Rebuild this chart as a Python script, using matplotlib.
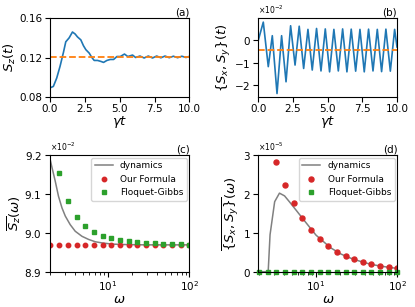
import matplotlib
matplotlib.use("Agg")
import matplotlib.pyplot as plt

# (a) S_z(t)
t_a = [0.0, 0.24, 0.48, 0.72, 0.96, 1.13, 1.37, 1.61, 1.80, 1.97, 2.21, 2.40,
       2.57, 2.81, 3.00, 3.17, 3.41, 3.65, 3.84, 4.08, 4.32, 4.56, 4.80, 5.04,
       5.34, 5.58, 5.92, 6.14, 6.45, 6.75, 7.05, 7.35, 7.65, 7.95, 8.25, 8.55,
       8.85, 9.15, 9.45, 9.75, 10.0]
sz_a = [0.0890, 0.0905, 0.0990, 0.1110, 0.1250, 0.1360, 0.1400, 0.1460, 0.1440,
        0.1410, 0.1380, 0.1320, 0.1280, 0.1245, 0.1200, 0.1170, 0.1170, 0.1160,
        0.1150, 0.1170, 0.1180, 0.1180, 0.1210, 0.1210, 0.1235, 0.1210, 0.1225,
        0.1200, 0.1215, 0.1195, 0.1215, 0.1195, 0.1215, 0.1197, 0.1215, 0.1198,
        0.1213, 0.1198, 0.1213, 0.1200, 0.1212]
sz_steady = 0.121

# (b) {S_x, S_y}(t), units of 1e-2
t_b = [0.0, 0.36, 0.72, 1.01, 1.35, 1.68, 2.00, 2.33, 2.65, 2.95, 3.27, 3.58,
       3.89, 4.20, 4.52, 4.83, 5.14, 5.45, 5.77, 6.08, 6.39, 6.70, 7.02, 7.33,
       7.64, 7.95, 8.27, 8.58, 8.89, 9.20, 9.52, 9.83, 10.0]
sxy_b = [0.0, 0.80, -1.17, 0.20, -2.36, 0.20, -1.84, 0.64, -1.10, 0.62, -1.25,
         0.48, -1.32, 0.52, -1.36, 0.50, -1.40, 0.48, -1.36, 0.50, -1.40, 0.49,
         -1.37, 0.48, -1.40, 0.49, -1.36, 0.48, -1.39, 0.49, -1.37, 0.48, -0.30]
sxy_steady = -0.43

# (c), (d) time averages vs driving frequency
omega = [2.0, 2.55, 3.26, 4.17, 5.32, 6.79, 8.68, 11.08, 14.15, 18.07, 23.08,
         29.47, 37.64, 48.06, 61.38, 78.38, 100.0]

# (c) units of 1e-2
formula_c = [8.969, 8.969, 8.969, 8.969, 8.969, 8.969, 8.969, 8.969, 8.969,
             8.969, 8.969, 8.969, 8.969, 8.969, 8.969, 8.969, 8.969]
fg_c = [9.250, 9.155, 9.083, 9.041, 9.017, 9.003, 8.993, 8.986, 8.981, 8.978,
        8.976, 8.975, 8.973, 8.972, 8.971, 8.970, 8.969]
dyn_w_c = [1.93, 2.08, 2.29, 2.51, 2.77, 3.04, 3.49, 4.02, 4.86, 5.85, 7.06,
           8.54, 11.3, 15.0, 20.0, 30.0, 50.0, 100.0]
dyn_c = [9.200, 9.170, 9.133, 9.094, 9.064, 9.043, 9.021, 9.004, 8.991, 8.983,
         8.977, 8.974, 8.971, 8.970, 8.9695, 8.969, 8.969, 8.969]

# (d) units of 1e-5
formula_d = [4.6, 3.6, 2.83, 2.23, 1.76, 1.37, 1.07, 0.84, 0.66, 0.51, 0.40,
             0.32, 0.25, 0.20, 0.155, 0.12, 0.095]
fg_d = [0.0, 0.0, 0.0, 0.0, 0.0, 0.0, 0.0, 0.0, 0.0, 0.0, 0.0, 0.0, 0.0, 0.0,
        0.0, 0.0, 0.0]
dyn_w_d = [2.0, 2.58, 2.72, 3.1, 3.55, 4.1, 4.7, 5.7, 6.9, 8.3, 10.0, 12.1,
           15.0, 20.0, 25.0, 30.0, 40.0, 50.0, 60.0, 80.0, 100.0]
dyn_d = [0.0, 0.0, 0.95, 1.80, 2.02, 1.95, 1.80, 1.58, 1.36, 1.15, 0.94, 0.79,
         0.62, 0.46, 0.37, 0.31, 0.23, 0.18, 0.15, 0.11, 0.085]

TICK = 7.5
LABEL = 9.5

fig = plt.figure(figsize=(4.15, 3.07), dpi=100)
ax_a = fig.add_axes([0.1205, 0.685, 0.336, 0.2554])
ax_b = fig.add_axes([0.6224, 0.685, 0.3342, 0.2554])
ax_c = fig.add_axes([0.1193, 0.115, 0.3373, 0.380])
ax_d = fig.add_axes([0.6224, 0.115, 0.3350, 0.380])

# (a)
ax_a.plot(t_a, sz_a, color="#1f77b4", lw=1.2)
ax_a.axhline(sz_steady, color="#ff7f0e", ls="--", lw=1.3)
ax_a.set_xlim(0, 10)
ax_a.set_ylim(0.08, 0.16)
ax_a.set_yticks([0.08, 0.12, 0.16])
ax_a.set_xticks([0, 2.5, 5, 7.5, 10])
ax_a.set_ylabel(r"$S_z(t)$", fontsize=LABEL, labelpad=1)
ax_a.set_xlabel(r"$\gamma t$", fontsize=LABEL, labelpad=0)
ax_a.set_title("(a)", loc="right", fontsize=7.5, pad=2)

# (b)
scale_b = 1e-2
ax_b.plot(t_b, [v * scale_b for v in sxy_b], color="#1f77b4", lw=1.2)
ax_b.axhline(sxy_steady * scale_b, color="#ff7f0e", ls="--", lw=1.3)
ax_b.set_xlim(0, 10)
ax_b.set_ylim(-2.5e-2, 0.97e-2)
ax_b.set_yticks([-2e-2, -1e-2, 0])
ax_b.set_xticks([0, 2.5, 5, 7.5, 10])
ax_b.ticklabel_format(axis="y", style="sci", scilimits=(0, 0),
                      useOffset=False, useMathText=True)
ax_b.set_ylabel(r"$\{S_x, S_y\}(t)$", fontsize=LABEL, labelpad=1)
ax_b.set_xlabel(r"$\gamma t$", fontsize=LABEL, labelpad=0)
ax_b.set_title("(b)", loc="right", fontsize=7.5, pad=2)

# (c)
scale_c = 1e-2
ax_c.plot(dyn_w_c, [v * scale_c for v in dyn_c], color="gray", lw=1.1,
          label="dynamics")
ax_c.plot(omega, [v * scale_c for v in formula_c], "o", color="#d62728",
          ms=3.2, ls="none", label="Our Formula")
ax_c.plot(omega, [v * scale_c for v in fg_c], "s", color="#2ca02c",
          ms=3.2, ls="none", label="Floquet-Gibbs")
ax_c.set_xscale("log")
ax_c.set_xlim(1.95, 100)
ax_c.set_ylim(8.9e-2, 9.2e-2)
ax_c.set_yticks([8.9e-2, 9.0e-2, 9.1e-2, 9.2e-2])
ax_c.ticklabel_format(axis="y", style="sci", scilimits=(0, 0),
                      useOffset=False, useMathText=True)
ax_c.set_ylabel(r"$\overline{S_z}(\omega)$", fontsize=LABEL, labelpad=1)
ax_c.set_xlabel(r"$\omega$", fontsize=LABEL, labelpad=0)
ax_c.set_title("(c)", loc="right", fontsize=7.5, pad=2)
ax_c.legend(loc="upper right", fontsize=6.5, borderaxespad=0.3)

# (d)
scale_d = 1e-5
ax_d.plot(dyn_w_d, [v * scale_d for v in dyn_d], color="gray", lw=1.1,
          label="dynamics")
ax_d.plot(omega, [v * scale_d for v in formula_d], "o", color="#d62728",
          ms=3.6, ls="none", label="Our Formula")
ax_d.plot(omega, [v * scale_d for v in fg_d], "s", color="#2ca02c",
          ms=3.2, ls="none", label="Floquet-Gibbs", clip_on=False)
ax_d.set_xscale("log")
ax_d.set_xlim(1.95, 100)
ax_d.set_ylim(0, 3e-5)
ax_d.set_yticks([0, 1e-5, 2e-5, 3e-5])
ax_d.ticklabel_format(axis="y", style="sci", scilimits=(0, 0),
                      useOffset=False, useMathText=True)
ax_d.set_ylabel(r"$\overline{\{S_x, S_y\}}(\omega)$", fontsize=LABEL, labelpad=1)
ax_d.set_xlabel(r"$\omega$", fontsize=LABEL, labelpad=0)
ax_d.set_title("(d)", loc="right", fontsize=7.5, pad=2)
ax_d.legend(loc="upper right", fontsize=6.5, borderaxespad=0.3)

for ax in (ax_a, ax_b, ax_c, ax_d):
    ax.tick_params(labelsize=TICK, pad=2)
    ax.yaxis.get_offset_text().set_fontsize(5.5)

fig.savefig("out.png", dpi=100)
